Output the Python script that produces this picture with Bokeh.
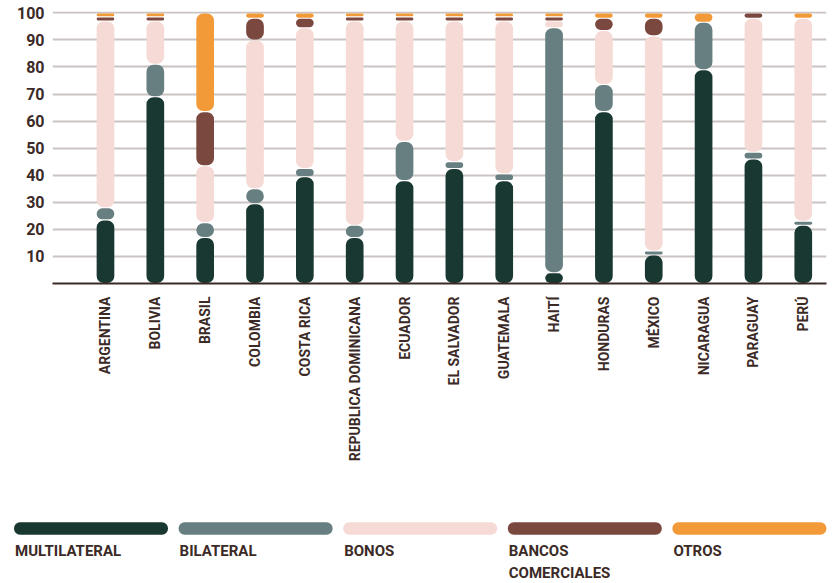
from bokeh.plotting import figure
from bokeh.layouts import column, row
from bokeh.models import Range1d, FixedTicker, ColumnDataSource
from bokeh.core.properties import value
from bokeh.embed import file_html
from bokeh.resources import INLINE
import math

countries = ["ARGENTINA", "BOLIVIA", "BRASIL", "COLOMBIA", "COSTA RICA", "REPUBLICA DOMINICANA",
             "ECUADOR", "EL SALVADOR", "GUATEMALA", "HAITÍ", "HONDURAS", "MÉXICO",
             "NICARAGUA", "PARAGUAY", "PERÚ"]
multilateral = [23.5, 69, 17, 29.5, 39.5, 17, 38, 42.5, 38, 4, 63.5, 10.5, 79, 46, 21.5]
bilateral    = [4.5, 12, 5.5, 5.5, 3, 4.5, 14.5, 2.5, 2.5, 90.5, 10, 1.5, 17.5, 2.5, 1.5]
bonos        = [69, 16, 21, 55, 52, 75.5, 44.5, 52, 56.5, 2.5, 20, 79.5, 0, 49.5, 75]
bancos       = [1.5, 1.5, 20, 8, 3.5, 1.5, 1.5, 1.5, 1.5, 1.5, 4.5, 6.5, 0, 2, 0]
otros        = [1.5, 1.5, 36.5, 2, 2, 1.5, 1.5, 1.5, 1.5, 1.5, 2, 2, 3.5, 0, 2]

series_names = ["MULTILATERAL", "BILATERAL", "BONOS", "BANCOS\nCOMERCIALES", "OTROS"]
series_values = [multilateral, bilateral, bonos, bancos, otros]
colors = ["#1a3832", "#677f80", "#f6dad5", "#7b4840", "#f39a38"]
yticks = [10, 20, 30, 40, 50, 60, 70, 80, 90, 100]

TEXT = "#3b2a26"
FONT = "Roboto"

p = figure(frame_width=774, frame_height=272, min_border_left=52, min_border_right=9,
           min_border_top=11, min_border_bottom=187,
           x_range=Range1d(-1.063, 14.466), y_range=Range1d(0, 100.5),
           output_backend="svg", toolbar_location=None)
p.outline_line_color = None
p.background_fill_color = "white"
p.border_fill_color = "white"

gap = 0.2
base = [0.0] * len(countries)
for vals, col in zip(series_values, colors):
    xs, bots, tops = [], [], []
    for i, v in enumerate(vals):
        if v > 0:
            xs.append(i)
            bots.append(base[i] + gap)
            tops.append(base[i] + v - gap)
        base[i] += v
    src = ColumnDataSource(dict(x=xs, bottom=bots, top=tops))
    p.vbar(x="x", bottom="bottom", top="top", width=0.355, source=src,
           fill_color=col, line_color=None, border_radius=7)

# axes
p.xaxis.ticker = FixedTicker(ticks=list(range(len(countries))))
p.xaxis.major_label_overrides = {i: c for i, c in enumerate(countries)}
p.xaxis.major_label_orientation = math.pi / 2
p.xaxis.major_tick_line_color = None
p.xaxis.major_tick_out = 0
p.xaxis.major_tick_in = 0
p.xaxis.minor_tick_line_color = None
p.xaxis.axis_line_color = "#3a2a25"
p.xaxis.axis_line_width = 2
p.xaxis.major_label_standoff = 13
p.xaxis.major_label_text_font = FONT
p.xaxis.major_label_text_font_style = "bold"
p.xaxis.major_label_text_font_size = "14px"
p.xaxis.major_label_text_color = TEXT

p.yaxis.ticker = FixedTicker(ticks=yticks)
p.yaxis.axis_line_color = None
p.yaxis.major_tick_line_color = None
p.yaxis.major_tick_out = 0
p.yaxis.major_tick_in = 0
p.yaxis.minor_tick_line_color = None
p.yaxis.major_label_standoff = 8
p.yaxis.major_label_text_font = FONT
p.yaxis.major_label_text_font_style = "bold"
p.yaxis.major_label_text_font_size = "16px"
p.yaxis.major_label_text_color = TEXT

p.xgrid.grid_line_color = None
p.ygrid.ticker = FixedTicker(ticks=yticks)
p.ygrid.grid_line_color = "#c9c3c1"
p.ygrid.grid_line_width = 2
p.ygrid.level = "underlay"

# legend figure
lg = figure(width=835, height=113, x_range=Range1d(0, 835), y_range=Range1d(113, 0),
            min_border=0, x_axis_type=None, y_axis_type=None,
            output_backend="svg", toolbar_location=None)
lg.outline_line_color = None
lg.xgrid.grid_line_color = None
lg.ygrid.grid_line_color = None

left0, step, pw, ph = 13.5, 164.6, 154, 12.5
for k, (name, col) in enumerate(zip(series_names, colors)):
    lx = left0 + k * step
    lg.hbar(y=[58], left=[lx], right=[lx + pw], height=ph,
            fill_color=col, line_color=None, border_radius=6)
    lines = name.split("\n")
    lg.text(x=[lx + 1] * len(lines), y=[80.5 + 22 * j for j in range(len(lines))], text=lines,
            text_font=value(FONT), text_font_style="bold", text_font_size="15px",
            text_color=TEXT, text_baseline="middle", text_align="left")

layout = column(p, row(lg), spacing=0)
open("out.html", "w").write(file_html(layout, INLINE))
